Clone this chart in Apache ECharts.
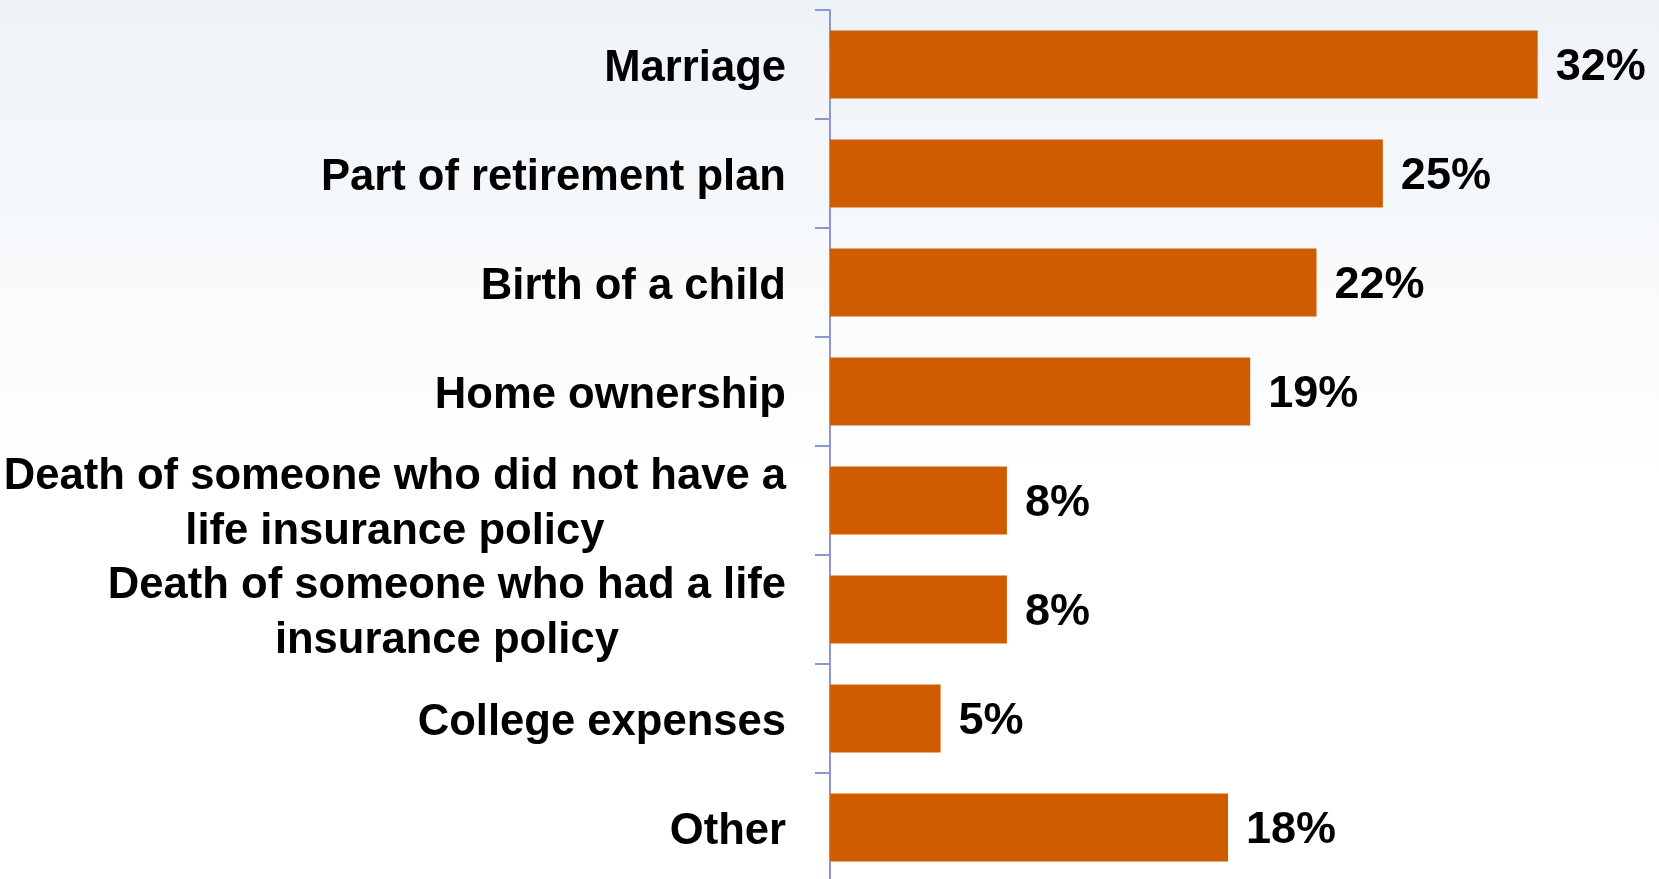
<!DOCTYPE html>
<html>
<head>
<meta charset="utf-8">
<title>Life events</title>
<script src="https://cdn.jsdelivr.net/npm/echarts@6/dist/echarts.min.js"></script>
<style>
  html, body { margin: 0; padding: 0; }
  #chart { width: 1659px; height: 879px; }
</style>
</head>
<body>
<div id="chart"></div>
<script>
// Reasons for buying life insurance (share of respondents, %)
const categories = [
  'Marriage',
  'Part of retirement plan',
  'Birth of a child',
  'Home ownership',
  'Death of someone who did not have a\nlife insurance policy',
  'Death of someone who had a life\ninsurance policy',
  'College expenses',
  'Other'
];
const values = [32, 25, 22, 19, 8, 8, 5, 18];

const chart = echarts.init(document.getElementById('chart'));

chart.setOption({
  backgroundColor: {
    type: 'linear', x: 0, y: 0, x2: 0, y2: 1,
    colorStops: [
      { offset: 0, color: '#eef3f8' },
      { offset: 0.55, color: '#ffffff' },
      { offset: 1, color: '#ffffff' }
    ]
  },
  animation: false,
  grid: { left: 830, right: 55, top: 10, height: 872, containLabel: false, outerBoundsMode: 'none' },
  xAxis: {
    type: 'value', min: 0, max: 35, show: false
  },
  yAxis: {
    type: 'category',
    inverse: true,
    data: categories,
    axisLine: { show: true, lineStyle: { color: '#8c97d2', width: 2 } },
    axisTick: { show: true, inside: false, length: 15, lineStyle: { color: '#8c97d2', width: 2 } },
    axisLabel: {
      margin: 44,
      align: 'right',
      padding: [8, 0, 0, 0],
      formatter: v => '{c|' + v + '}',
      rich: {
        c: {
          align: 'center',
          fontFamily: '"Liberation Sans", Arial, sans-serif',
          fontWeight: 'bold',
          fontSize: 43.6,
          lineHeight: 55,
          color: '#000000'
        }
      }
    },
    splitLine: { show: false }
  },
  series: [{
    type: 'bar',
    data: values,
    barWidth: 68,
    itemStyle: { color: '#d05c00' },
    label: {
      show: true,
      position: 'right',
      distance: 18,
      offset: [0, 3],
      formatter: '{c}%',
      fontFamily: '"Liberation Sans", Arial, sans-serif',
      fontWeight: 'bold',
      fontSize: 45,
      color: '#000000'
    }
  }]
});
</script>
</body>
</html>
